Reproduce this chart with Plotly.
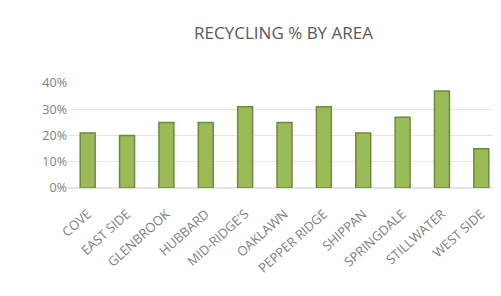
import plotly.graph_objects as go

areas = ["COVE", "EAST SIDE", "GLENBROOK", "HUBBARD", "MID-RIDGE'S", "OAKLAWN",
         "PEPPER RIDGE", "SHIPPAN", "SPRINGDALE", "STILLWATER", "WEST SIDE"]
recycling_pct = [0.21, 0.20, 0.25, 0.25, 0.31, 0.25, 0.31, 0.21, 0.27, 0.37, 0.15]
y_ticks = [0, 0.1, 0.2, 0.3, 0.4]
y_tick_labels = ["0%", "10%", "20%", "30%", "40%"]

fig = go.Figure()
fig.add_trace(go.Bar(
    x=areas, y=recycling_pct, width=0.38,
    marker=dict(color="#9BBB59", line=dict(color="#6E8A3A", width=1.5)),
))
fig.update_layout(
    width=501, height=296,
    margin=dict(l=60, r=8, t=75, b=116),
    paper_bgcolor="white", plot_bgcolor="white",
    showlegend=False,
    title=dict(text="RECYCLING % BY AREA", x=0.55, xanchor="center", y=0.915, yanchor="middle",
               font=dict(family="Open Sans, Liberation Sans, sans-serif", size=17, color="#595959")),
    font=dict(family="Open Sans, Liberation Sans, sans-serif", color="#7F7F7F", size=12),
    xaxis=dict(tickangle=-42, showgrid=False, showline=False, ticks="",
               ticklabelstandoff=15,
               tickfont=dict(size=13, color="#7F7F7F")),
    yaxis=dict(range=[0, 0.4], tickvals=y_ticks, ticktext=y_tick_labels,
               showgrid=True, gridcolor="#E6E6E6", zeroline=True, zerolinecolor="#E6E6E6",
               ticks="", tickfont=dict(size=12.5, color="#7F7F7F")),
)
fig.write_html("out.html")
